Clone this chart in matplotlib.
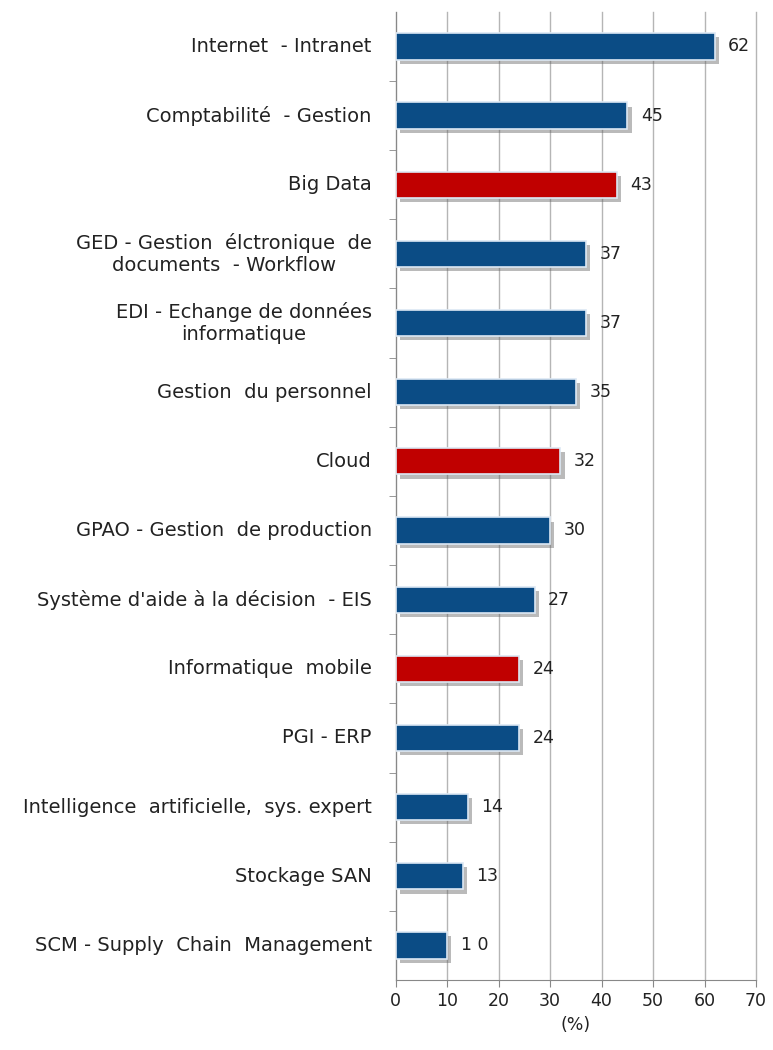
import matplotlib
matplotlib.use("Agg")
import matplotlib.pyplot as plt
import matplotlib.patheffects as pe
from matplotlib.ticker import FixedLocator
from matplotlib.transforms import offset_copy

categories = [
    "Internet  - Intranet",
    "Comptabilité  - Gestion",
    "Big Data",
    "GED - Gestion  élctronique  de\ndocuments  - Workflow",
    "EDI - Echange de données\ninformatique",
    "Gestion  du personnel",
    "Cloud",
    "GPAO - Gestion  de production",
    "Système d'aide à la décision  - EIS",
    "Informatique  mobile",
    "PGI - ERP",
    "Intelligence  artificielle,  sys. expert",
    "Stockage SAN",
    "SCM - Supply  Chain  Management",
]
values = [62, 45, 43, 37, 37, 35, 32, 30, 27, 24, 24, 14, 13, 10]
value_labels = ["62", "45", "43", "37", "37", "35", "32", "30", "27", "24", "24", "14", "13", "1 0"]
highlight = [False, False, True, False, False, False, True, False, False, True, False, False, False, False]
xticks = [0, 10, 20, 30, 40, 50, 60, 70]

blue = "#0B4C85"
red = "#C00000"

plt.rcParams['font.family'] = ['DejaVu Sans']
fig = plt.figure(figsize=(7.73, 10.5), dpi=100)
ax = fig.add_axes([0.512, 0.0667, 0.466, 0.922])

y = list(range(len(categories)))
colors = [red if h else blue for h in highlight]
bars = ax.barh(y, values, height=0.38, color=colors, edgecolor="#DCE8F4", linewidth=1.2, zorder=3)
for b in bars:
    b.set_path_effects([pe.SimplePatchShadow(offset=(3, -3), shadow_rgbFace="#666666", alpha=0.45), pe.Normal()])

for yi, v, lab in zip(y, values, value_labels):
    ax.text(v + 2.6, yi, lab, va="center", ha="left", fontsize=12.5, color="#222222", zorder=4)

ax.set_ylim(len(categories) - 0.5, -0.5)
ax.set_xlim(0, 70)
ax.set_xticks(xticks)
ax.set_yticks(y)
ax.set_yticklabels([])
ax.tick_params(axis="y", length=0)
lab_trans = offset_copy(ax.get_yaxis_transform(), fig=fig, x=-24, y=0, units="dots")
for yi, cat in zip(y, categories):
    ax.text(0, yi, cat, transform=lab_trans, ha="right", va="center", multialignment="center",
            fontsize=14, color="#222222", linespacing=1.2)
ax.yaxis.set_minor_locator(FixedLocator([i + 0.5 for i in range(len(categories) - 1)]))
ax.tick_params(axis="y", which="minor", length=5, color="#888888", direction="out")
ax.tick_params(axis="x", length=5, color="#888888", labelsize=12.5, labelcolor="#222222", pad=4)
ax.grid(axis="x", color="#B5B5B5", linewidth=1.0, zorder=0)
for l in ax.get_xgridlines():
    l.set_clip_on(False)
for s in ["top", "right"]:
    ax.spines[s].set_visible(False)
for s in ["left", "bottom"]:
    ax.spines[s].set_color("#888888")
ax.set_xlabel("(%)", fontsize=12.5, color="#222222", labelpad=4)

fig.savefig("out.png", dpi=100)
